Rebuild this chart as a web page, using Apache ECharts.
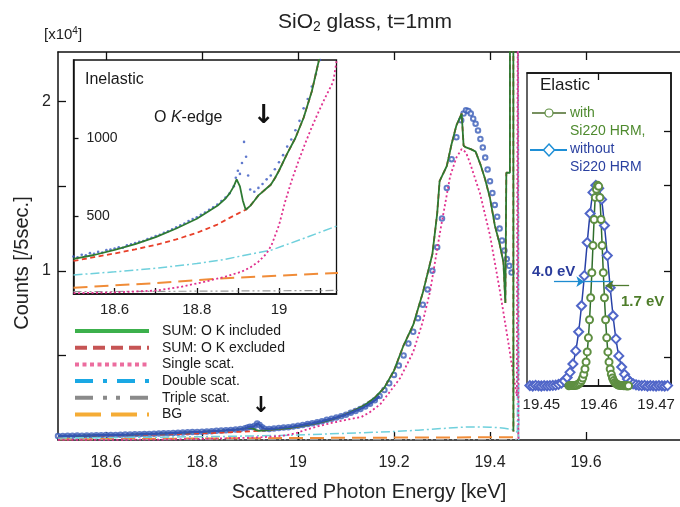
<!DOCTYPE html>
<html>
<head>
<meta charset="utf-8">
<script src="https://cdn.jsdelivr.net/npm/echarts@6/dist/echarts.min.js"></script>
<style>
  html, body { margin: 0; padding: 0; background: #fff; }
  #chart { width: 680px; height: 507px; }
</style>
</head>
<body>
<div id="chart"></div>
<script>
// measured spectrum, counts / 5 sec
const dataEnergy = [18.50, 18.51, 18.52, 18.53, 18.54, 18.55, 18.56, 18.57, 18.58, 18.59,
  18.60, 18.61, 18.62, 18.63, 18.64, 18.65, 18.66, 18.67, 18.68, 18.69,
  18.70, 18.71, 18.72, 18.73, 18.74, 18.75, 18.76, 18.77, 18.78, 18.79,
  18.80, 18.81, 18.82, 18.83, 18.84, 18.85, 18.86, 18.87, 18.88, 18.89,
  18.895, 18.90, 18.905, 18.91, 18.915, 18.92, 18.925, 18.93, 18.94, 18.95,
  18.96, 18.97, 18.98, 18.99, 19.00, 19.01, 19.02, 19.03, 19.04, 19.05,
  19.06, 19.07, 19.08, 19.09, 19.10, 19.11, 19.12, 19.13, 19.14, 19.15,
  19.16, 19.17, 19.18, 19.19, 19.20, 19.21, 19.22, 19.23, 19.24, 19.25,
  19.26, 19.27, 19.28, 19.29, 19.30, 19.31, 19.32, 19.33, 19.34, 19.345,
  19.35, 19.355, 19.36, 19.365, 19.37, 19.375, 19.38, 19.385, 19.39, 19.395,
  19.40, 19.405, 19.41, 19.415, 19.42, 19.425, 19.43, 19.435, 19.44, 19.445];
const dataCounts = [240, 236, 252, 248, 262, 258, 270, 266, 281, 285,
  292, 300, 296, 312, 318, 326, 334, 340, 352, 360,
  372, 380, 392, 402, 414, 428, 440, 452, 468, 480,
  492, 508, 522, 540, 556, 574, 596, 618, 646, 690,
  745, 790, 770, 840, 975, 880, 760, 670, 655, 680,
  705, 735, 760, 800, 845, 890, 945, 990, 1050, 1110,
  1190, 1250, 1330, 1410, 1500, 1610, 1720, 1840, 1980, 2150,
  2350, 2600, 2950, 3350, 3850, 4400, 5000, 5700, 6400, 7200,
  8000, 8900, 10000, 11400, 13100, 14900, 16600, 17900, 18900, 19300,
  19500, 19450, 19300, 19000, 18700, 18300, 17800, 17300, 16700, 16000,
  15300, 14600, 13900, 13200, 12500, 11800, 11200, 10700, 10300, 9900];

// fitted components
const sumEnergy = [18.50, 18.55, 18.60, 18.65, 18.70, 18.75, 18.80, 18.85, 18.87, 18.88,
  18.89, 18.897, 18.905, 18.912, 18.919, 18.93, 18.94, 18.95, 18.96, 18.97,
  18.98, 18.99, 19.00, 19.02, 19.04, 19.06, 19.08, 19.10, 19.12, 19.14,
  19.16, 19.18, 19.20, 19.22, 19.24, 19.26, 19.28, 19.29, 19.295, 19.30,
  19.31, 19.32, 19.33, 19.341, 19.345, 19.35, 19.36, 19.37, 19.38, 19.39,
  19.40, 19.41, 19.42, 19.428, 19.432, 19.434, 19.4415, 19.4417, 19.4486, 19.4488];
const sumIncluded = [225, 250, 283, 320, 365, 420, 482, 565, 612, 645,
  690, 735, 690, 600, 540, 565, 598, 632, 655, 678,
  700, 742, 790, 900, 1000, 1130, 1300, 1530, 1780, 2080,
  2500, 3100, 4100, 5600, 6800, 8700, 11000, 13400, 15300, 15600,
  16200, 17500, 18600, 19300, 17400, 17300, 17200, 17050, 16300, 15400,
  14300, 12700, 11600, 10500, 8100, 15800, 15800, 30000, 30000, 500];
// without the O K-edge contribution (identical to the sum above 18.919 keV)
const excludedEnergy = [18.50, 18.55, 18.60, 18.65, 18.70, 18.75, 18.80, 18.85, 18.88, 18.90, 18.919];
const sumExcluded = [212, 236, 260, 286, 315, 350, 392, 445, 488, 515, 540];

const singleEnergy = [18.50, 18.60, 18.70, 18.76, 18.82, 18.87, 18.909, 18.93, 18.95, 18.97,
  18.982, 19.00, 19.015, 19.03, 19.047, 19.063, 19.079, 19.095, 19.112, 19.132,
  19.15, 19.171, 19.19, 19.2125, 19.24, 19.26, 19.275, 19.296, 19.317, 19.33,
  19.341, 19.35, 19.358, 19.379, 19.40, 19.421, 19.438, 19.449, 19.456, 19.4583,
  19.459, 19.4592];
const singleScat = [5, 10, 22, 45, 79, 112, 143, 170, 207, 260,
  314, 440, 592, 720, 848, 960, 1064, 1160, 1256, 1361,
  1650, 2100, 2800, 3650, 5200, 7000, 8750, 12300, 15600, 16700,
  17200, 17000, 16400, 14600, 12100, 8750, 5800, 3800, 2600, 30000,
  30000, 0];

const doubleEnergy = [18.50, 18.60, 18.70, 18.80, 18.86, 18.92, 18.982, 19.063, 19.136, 19.20,
  19.25, 19.30, 19.35, 19.40, 19.43, 19.45, 19.457, 19.4588, 19.4596, 19.4598];
const doubleScat = [122, 142, 165, 195, 218, 250, 282, 359, 431, 500,
  580, 680, 770, 760, 700, 600, 450, 30000, 30000, 0];

const tripleEnergy = [18.50, 18.80, 19.10, 19.30, 19.45, 19.4584, 19.4586, 19.4594, 19.4596];
const tripleScat = [15, 18, 22, 26, 30, 40, 30000, 30000, 0];

const bgEnergy = [18.50, 18.70, 18.88, 19.14, 19.30, 19.45];
const bgCounts = [40, 70, 103, 135, 150, 165];

// elastic line, normalised to peak
const withEnergy = [19.4548, 19.4550, 19.4552, 19.4554, 19.4556, 19.4558, 19.4560, 19.4562, 19.4564, 19.4566,
  19.4568, 19.4570, 19.4572, 19.4574, 19.4576, 19.4578, 19.4580, 19.4582, 19.4584, 19.4586,
  19.4588, 19.4590, 19.4592, 19.4594, 19.4596, 19.4598, 19.4600, 19.4602, 19.4604, 19.4606,
  19.4608, 19.4610, 19.4612, 19.4614, 19.4616, 19.4618, 19.4620, 19.4622, 19.4624, 19.4626,
  19.4628, 19.4630, 19.4632, 19.4634, 19.4636, 19.4638, 19.4640, 19.4642, 19.4644, 19.4646,
  19.4648, 19.4650, 19.4652];
const withHRM = [0.001, 0.002, 0.002, 0.003, 0.002, 0.003, 0.004, 0.005, 0.008, 0.012,
  0.018, 0.027, 0.04, 0.058, 0.085, 0.12, 0.17, 0.24, 0.33, 0.44,
  0.565, 0.70, 0.83, 0.94, 0.98, 1.0, 0.995, 0.94, 0.83, 0.70,
  0.565, 0.44, 0.33, 0.24, 0.17, 0.12, 0.085, 0.058, 0.04, 0.027,
  0.018, 0.012, 0.008, 0.005, 0.004, 0.003, 0.002, 0.002, 0.001, 0.002,
  0.001, 0, 0.001];
const withoutEnergy = [19.4480, 19.4485, 19.4490, 19.4495, 19.4500, 19.4505, 19.4510, 19.4515, 19.4520, 19.4525,
  19.4530, 19.4535, 19.4540, 19.4545, 19.4550, 19.4555, 19.4560, 19.4565, 19.4570, 19.4575,
  19.4580, 19.4585, 19.4590, 19.4595, 19.4600, 19.4605, 19.4610, 19.4615, 19.4620, 19.4625,
  19.4630, 19.4635, 19.4640, 19.4645, 19.4650, 19.4655, 19.4660, 19.4665, 19.4670, 19.4675,
  19.4680, 19.4685, 19.4690, 19.4695, 19.4700, 19.4705, 19.4710, 19.4715, 19.4720];
const withoutHRM = [0.002, 0, 0.003, 0.001, 0, 0.002, 0.001, 0.002, 0.003, 0.004,
  0.008, 0.014, 0.025, 0.042, 0.068, 0.11, 0.175, 0.27, 0.40, 0.55,
  0.715, 0.86, 0.965, 1.0, 0.985, 0.93, 0.80, 0.65, 0.49, 0.35,
  0.235, 0.15, 0.095, 0.058, 0.035, 0.02, 0.011, 0.006, 0.003, 0.002,
  0.003, 0, 0.002, 0.001, 0, 0.002, 0.001, 0, 0.002];

// axes
const mainXTicks = [18.6, 18.8, 19, 19.2, 19.4, 19.6];
const mainYTicks = [5000, 10000, 15000, 20000];
const mainYLabels = [10000, 20000];
const insetXTicks = [18.6, 18.7, 18.8, 18.9, 19, 19.1];
const insetXLabels = [18.6, 18.8, 19];
const insetYTicks = [500, 1000];
const elasticXTicks = [19.45, 19.46, 19.47];
const elasticTopTicks = [19.46];
const elasticYTicks = [0.143, 0.571, 1.0, 1.27];

const FONT = "'Liberation Sans', Arial, Helvetica, sans-serif";

const pairs = (xs, ys) => xs.map((x, i) => [x, ys[i]]);
const sumPairs = pairs(sumEnergy, sumIncluded);
const excludedPairs = pairs(excludedEnergy, sumExcluded).concat(sumPairs.filter(p => p[0] > 18.919));
const dataPairs = pairs(dataEnergy, dataCounts);

const components = [
  { name: 'BG', data: pairs(bgEnergy, bgCounts), color: '#f08c38', width: 2, type: [14, 7],
    legend: { color: '#f5ac35', type: [26, 10] } },
  { name: 'Triple scat.', data: pairs(tripleEnergy, tripleScat), color: '#9a9a9a', width: 1.2, type: [8, 3, 2, 3, 2, 3],
    legend: { color: '#8a8a8a', type: [18, 10, 4, 9, 4, 10] } },
  { name: 'Double scat.', data: pairs(doubleEnergy, doubleScat), color: '#6fd0dc', width: 1.5, type: [9, 3, 2, 3],
    legend: { color: '#1aa8e4', type: [18, 10, 4, 10] } },
  { name: 'Single scat.', data: pairs(singleEnergy, singleScat), color: '#e0308e', width: 1.8, type: [2, 2.5],
    legend: { color: '#ec6c9e', type: [4, 3.5] } },
  { name: 'SUM: O K excluded', data: excludedPairs, color: '#e8402a', width: 1.8, type: [5, 3.5],
    legend: { color: '#c65454', type: [12, 6] } },
  { name: 'SUM: O K included', data: sumPairs, color: '#2d7a32', width: 1.8, type: 'solid',
    legend: { color: '#3cb04c', type: 'solid' } }
];

function componentSeries(xi, yi) {
  return components.map(c => ({
    name: c.name, type: 'line', xAxisIndex: xi, yAxisIndex: yi,
    data: c.data, symbol: 'none', silent: true, clip: true,
    lineStyle: { color: c.color, width: c.width, type: c.type },
    itemStyle: { color: c.color }
  }));
}

const chart = echarts.init(document.getElementById('chart'));

const tickStyle = { lineStyle: { color: '#111', width: 1.3 } };
const axisLine = { show: true, onZero: false, lineStyle: { color: '#111', width: 1.5 } };

// main frame runs off the right edge of the picture, so no right border
const mainMax = 18.5 + 622 / 480;

const option = {
  animation: false,
  grid: [
    { left: 58, top: 52, width: 622, height: 390, show: false },
    { left: 73.5, top: 60, width: 263, height: 234, show: true, backgroundColor: '#fff', borderColor: '#111', borderWidth: 1.3 },
    { left: 527, top: 73, width: 144, height: 313, show: true, backgroundColor: '#fff', borderColor: '#111', borderWidth: 1.3 }
  ],
  xAxis: [
    { gridIndex: 0, type: 'value', min: 18.5, max: mainMax, axisLine,
      axisTick: { inside: true, length: 8, customValues: mainXTicks, ...tickStyle },
      axisLabel: { customValues: mainXTicks, fontSize: 16, margin: 15, color: '#222', fontFamily: FONT },
      splitLine: { show: false },
      name: 'Scattered Photon Energy [keV]', nameLocation: 'middle', nameGap: 42,
      nameTextStyle: { fontSize: 20, color: '#222', fontFamily: FONT } },
    { gridIndex: 0, type: 'value', position: 'top', min: 18.5, max: mainMax, axisLine,
      axisTick: { inside: true, length: 8, customValues: mainXTicks, ...tickStyle },
      axisLabel: { show: false }, splitLine: { show: false } },
    { gridIndex: 1, type: 'value', min: 18.5, max: 19.14, axisLine,
      axisTick: { inside: true, length: 6, customValues: insetXTicks, ...tickStyle },
      axisLabel: { customValues: insetXLabels, fontSize: 15, margin: 8, color: '#222', fontFamily: FONT },
      splitLine: { show: false } },
    { gridIndex: 2, type: 'value', min: 19.4475, max: 19.4726, axisLine,
      axisTick: { inside: true, length: 7, customValues: elasticTopTicks, ...tickStyle },
      axisLabel: { customValues: elasticXTicks, fontSize: 15, margin: 11, color: '#222', fontFamily: FONT },
      splitLine: { show: false } },
    { gridIndex: 2, type: 'value', position: 'top', min: 19.4475, max: 19.4726, axisLine,
      axisTick: { inside: true, length: 7, customValues: elasticTopTicks, ...tickStyle },
      axisLabel: { show: false }, splitLine: { show: false } }
  ],
  yAxis: [
    { gridIndex: 0, type: 'value', min: 0, max: 22940, axisLine,
      axisTick: { show: true, inside: true, length: 8, customValues: mainYTicks, ...tickStyle },
      axisLabel: { customValues: mainYLabels, fontSize: 16, margin: 7, color: '#222', fontFamily: FONT,
        formatter: v => String(v / 10000) },
      splitLine: { show: false } },
    { gridIndex: 1, type: 'value', min: 0, max: 1500, axisLine,
      axisTick: { show: true, inside: true, length: 5, customValues: insetYTicks, ...tickStyle },
      axisLabel: { inside: true, customValues: insetYTicks, fontSize: 14, margin: 13, color: '#222', fontFamily: FONT,
        formatter: v => String(v) },
      splitLine: { show: false } },
    { gridIndex: 2, type: 'value', position: 'right', min: 0, max: 1.56, axisLine,
      axisTick: { show: true, inside: true, length: 7, customValues: elasticYTicks, ...tickStyle },
      axisLabel: { show: false }, splitLine: { show: false } }
  ],
  legend: {
    orient: 'vertical', left: 73, top: 324, padding: 0, itemWidth: 74, itemHeight: 14, itemGap: 2.7,
    selectedMode: false,
    itemStyle: { opacity: 0 },
    textStyle: { fontSize: 14, color: '#1a1a1a', fontFamily: FONT, padding: [0, 0, 0, 8] },
    data: components.slice().reverse().map(c => ({
      name: c.name,
      itemStyle: { opacity: 0 },
      lineStyle: { color: c.legend.color, width: 4, type: c.legend.type }
    }))
  },
  series: [
    // main panel
    ...componentSeries(0, 0),
    { name: 'data-line', type: 'line', xAxisIndex: 0, yAxisIndex: 0, silent: true, symbol: 'none',
      data: dataPairs.filter(p => p[0] <= 19.17),
      lineStyle: { color: '#3454b0', width: 2.4 } },
    { name: 'data', type: 'scatter', xAxisIndex: 0, yAxisIndex: 0, silent: true,
      data: dataPairs, symbol: 'emptyCircle', symbolSize: 4.5,
      itemStyle: { color: '#3a5cb8', borderWidth: 1 } },
    // inelastic inset
    { name: 'data-inset', type: 'scatter', xAxisIndex: 2, yAxisIndex: 1, silent: true,
      data: dataPairs, symbol: 'circle', symbolSize: 2.6,
      itemStyle: { color: '#3858c0' } },
    ...componentSeries(2, 1),
    // elastic inset
    { name: 'without Si220 HRM', type: 'line', xAxisIndex: 3, yAxisIndex: 2, silent: true,
      data: pairs(withoutEnergy, withoutHRM), smooth: 0.3, symbol: 'emptyDiamond', symbolSize: 9,
      lineStyle: { color: '#2740a6', width: 1.5 },
      itemStyle: { color: '#5066c8', borderWidth: 1 },
      markLine: {
        silent: true, symbolSize: 8, label: { show: false },
        lineStyle: { color: '#1d8bd0', width: 1.3, type: 'solid' },
        data: [
          [{ coord: [19.4522, 0.52], symbol: 'none' }, { coord: [19.4575, 0.52], symbol: 'arrow' }],
          [{ coord: [19.4575, 0.52], symbol: 'none' }, { coord: [19.4624, 0.52], symbol: 'none' }]
        ]
      } },
    { name: 'with Si220 HRM,', type: 'line', xAxisIndex: 3, yAxisIndex: 2, silent: true,
      data: pairs(withEnergy, withHRM), smooth: 0.3, symbol: 'emptyCircle', symbolSize: 7,
      lineStyle: { color: '#2f6e2c', width: 1.5 },
      itemStyle: { color: '#5f8f42', borderWidth: 1 },
      markLine: {
        silent: true, symbolSize: 8, label: { show: false },
        lineStyle: { color: '#4e7b2e', width: 1.3, type: 'solid' },
        data: [
          [{ coord: [19.4653, 0.50], symbol: 'none' }, { coord: [19.4612, 0.50], symbol: 'arrow' }]
        ]
      } }
  ],
  graphic: [
    { type: 'text', z: 100, x: 365, y: 22, style: {
      text: 'SiO{s|2} glass, t=1mm', font: `21px ${FONT}`, fill: '#222', align: 'center', verticalAlign: 'middle',
      rich: { s: { fontSize: 14, padding: [10, 0, 0, 0], fontFamily: FONT, fill: '#222' } } } },
    { type: 'text', z: 100, x: 44, y: 35, style: {
      text: '[x10{p|4}]', font: `15px ${FONT}`, fill: '#222', verticalAlign: 'middle',
      rich: { p: { fontSize: 10, padding: [0, 0, 8, 0], fontFamily: FONT, fill: '#222' } } } },
    { type: 'text', z: 100, x: 22, y: 263, rotation: Math.PI / 2, style: {
      text: 'Counts [/5sec.]', font: `20px ${FONT}`, fill: '#222', align: 'center', verticalAlign: 'middle' } },
    { type: 'text', z: 100, x: 85, y: 80, style: {
      text: 'Inelastic', font: `16px ${FONT}`, fill: '#1a1a1a', verticalAlign: 'middle' } },
    { type: 'text', z: 100, x: 154, y: 118, style: {
      text: 'O {k|K}-edge', font: `16px ${FONT}`, fill: '#1a1a1a', verticalAlign: 'middle',
      rich: { k: { fontStyle: 'italic', fontSize: 16, fontFamily: FONT, fill: '#1a1a1a' } } } },
    { type: 'text', z: 100, x: 264, y: 116, style: {
      text: '\u2193', font: `bold 26px 'DejaVu Sans'`, fill: '#111', align: 'center', verticalAlign: 'middle' } },
    { type: 'text', z: 100, x: 261, y: 406, style: {
      text: '\u2193', font: `bold 22px 'DejaVu Sans'`, fill: '#111', align: 'center', verticalAlign: 'middle' } },
    { type: 'text', z: 100, x: 540, y: 85, style: {
      text: 'Elastic', font: `17px ${FONT}`, fill: '#1a1a1a', verticalAlign: 'middle' } },
    { type: 'line', z: 100, shape: { x1: 532, y1: 113, x2: 566, y2: 113 }, style: { stroke: '#4a6b2a', lineWidth: 1.3 } },
    { type: 'circle', z: 101, shape: { cx: 549, cy: 113, r: 4 }, style: { stroke: '#5f8f42', fill: '#fff', lineWidth: 1.2 } },
    { type: 'text', z: 100, x: 570, y: 113, style: {
      text: 'with', font: `14px ${FONT}`, fill: '#4e8a2e', verticalAlign: 'middle' } },
    { type: 'text', z: 100, x: 570, y: 131, style: {
      text: 'Si220 HRM,', font: `14px ${FONT}`, fill: '#4e8a2e', verticalAlign: 'middle' } },
    { type: 'line', z: 100, shape: { x1: 530, y1: 150, x2: 567, y2: 150 }, style: { stroke: '#1e8fd6', lineWidth: 2 } },
    { type: 'polygon', z: 101, shape: { points: [[549, 144], [554.5, 150], [549, 156], [543.5, 150]] },
      style: { stroke: '#1e8fd6', fill: '#fff', lineWidth: 1.5 } },
    { type: 'text', z: 100, x: 570, y: 149, style: {
      text: 'without', font: `14px ${FONT}`, fill: '#2a40a0', verticalAlign: 'middle' } },
    { type: 'text', z: 100, x: 570, y: 167, style: {
      text: 'Si220 HRM', font: `14px ${FONT}`, fill: '#2a40a0', verticalAlign: 'middle' } },
    { type: 'text', z: 100, x: 532, y: 272, style: {
      text: '4.0 eV', font: `bold 15px ${FONT}`, fill: '#2a3c9c', verticalAlign: 'middle' } },
    { type: 'text', z: 100, x: 621, y: 302, style: {
      text: '1.7 eV', font: `bold 15px ${FONT}`, fill: '#4e7d2a', verticalAlign: 'middle' } }
  ]
};

chart.setOption(option);
</script>
</body>
</html>
